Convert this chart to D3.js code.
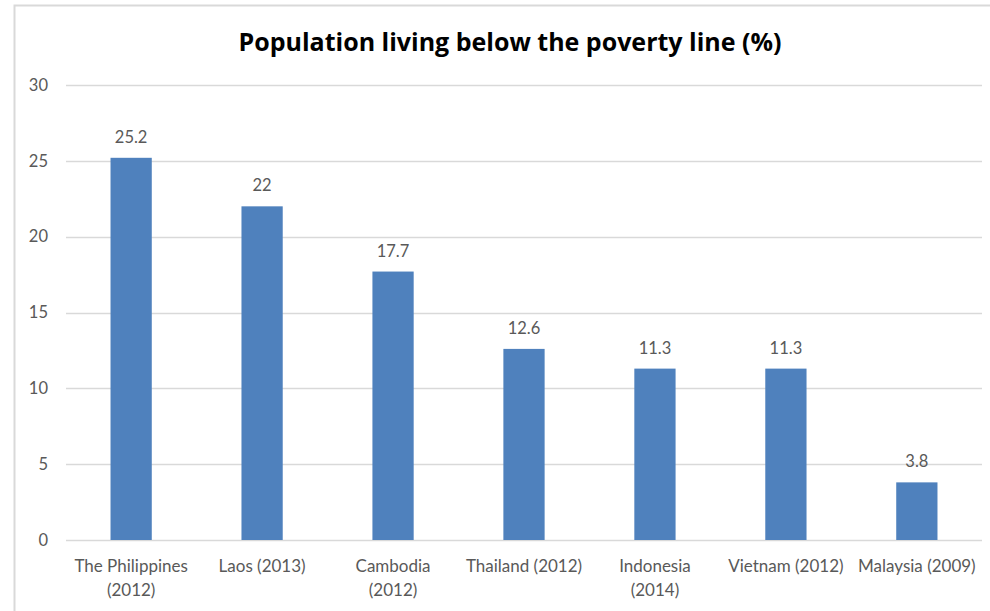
<html>
<head>
<script src="https://cdn.jsdelivr.net/npm/d3@7"></script>
<style>
body {margin:0; background:#fff;}
text {font-family: Lato, 'Open Sans', sans-serif; fill:#595959;}
</style>
</head>
<body>
<div id="chart"></div>
<script>
// data
var countries = ["The Philippines|(2012)", "Laos (2013)", "Cambodia|(2012)", "Thailand (2012)", "Indonesia|(2014)", "Vietnam (2012)", "Malaysia (2009)"];
var poverty = [25.2, 22, 17.7, 12.6, 11.3, 11.3, 3.8];
var yticks = [0, 5, 10, 15, 20, 25, 30];
var title = "Population living below the poverty line (%)";

var W = 990, H = 611;
var svg = d3.select("#chart").append("svg").attr("width", W).attr("height", H);

// chart frame
svg.append("rect").attr("x", 14.5).attr("y", 5.5).attr("width", 1000).attr("height", 700)
  .attr("fill", "none").attr("stroke", "#d9d9d9").attr("stroke-width", 2);

var x = d3.scaleBand().domain(countries).range([66, 982]).paddingInner(0.685).paddingOuter(0.34);
var y = d3.scaleLinear().domain([0, 30]).range([540, 85]);

// gridlines
svg.append("g").selectAll("line").data(yticks).enter().append("line")
  .attr("x1", 66).attr("x2", 982)
  .attr("y1", function(d){return Math.round(y(d)) + 0.5;})
  .attr("y2", function(d){return Math.round(y(d)) + 0.5;})
  .attr("stroke", "#d9d9d9").attr("stroke-width", 1.5);

// y axis labels
var yaxis = svg.append("g").attr("transform", "translate(56,0)")
  .call(d3.axisLeft(y).tickValues(yticks).tickSize(0).tickPadding(8));
yaxis.select(".domain").remove();
yaxis.selectAll("text").style("font-size", "16.5px").attr("fill", "#595959").style("font-family", "Lato, sans-serif");

// bars
svg.append("g").selectAll("rect").data(poverty).enter().append("rect")
  .attr("x", function(d,i){return x(countries[i]);})
  .attr("y", function(d){return y(d);})
  .attr("width", x.bandwidth())
  .attr("height", function(d){return y(0) - y(d);})
  .attr("fill", "#4f81bd");

// value labels
svg.append("g").selectAll("text").data(poverty).enter().append("text")
  .attr("x", function(d,i){return x(countries[i]) + x.bandwidth()/2;})
  .attr("y", function(d){return y(d) - 15;})
  .attr("text-anchor", "middle")
  .style("font-size", "16.5px")
  .text(function(d){return d;});

// x labels
var xl = svg.append("g").selectAll("text").data(countries).enter().append("text")
  .attr("x", function(d){return x(d) + x.bandwidth()/2;})
  .attr("y", 572)
  .attr("text-anchor", "middle")
  .style("font-size", "17px");
xl.each(function(d){
  var t = d3.select(this);
  d.split("|").forEach(function(line, k){
    t.append("tspan").attr("x", x(d) + x.bandwidth()/2).attr("dy", k == 0 ? 0 : 24).text(line);
  });
});

// title
svg.append("text").attr("x", 510).attr("y", 51).attr("text-anchor", "middle")
  .style("font-size", "25px").style("font-weight", "bold")
  .style("font-family", "'Open Sans', sans-serif")
  .style("fill", "#000")
  .text(title);
</script>
</body>
</html>
